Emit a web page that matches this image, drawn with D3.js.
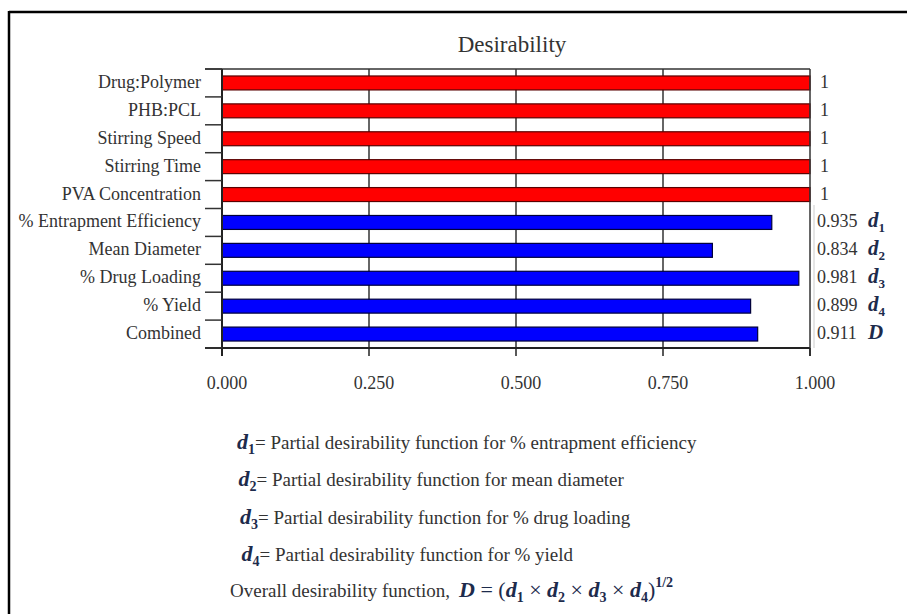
<!DOCTYPE html>
<html>
<head>
<meta charset="utf-8">
<script src="https://cdn.jsdelivr.net/npm/d3@7"></script>
<style>
  body { margin:0; background:#fff; }
  text { font-family:"Liberation Serif", "Times New Roman", serif; fill:#333; }
  .math { font-family:"Liberation Serif", serif; font-style:italic; font-weight:bold; fill:#1d2b4c; }
  .up { font-style:normal; }
  .plain { font-style:normal; font-weight:normal; }
</style>
</head>
<body>
<div id="chart"></div>
<script>
var categories = ["Drug:Polymer", "PHB:PCL", "Stirring Speed", "Stirring Time", "PVA Concentration",
                  "% Entrapment Efficiency", "Mean Diameter", "% Drug Loading", "% Yield", "Combined"];
var values = [1, 1, 1, 1, 1, 0.935, 0.834, 0.981, 0.899, 0.911];
var groups = ["factor", "factor", "factor", "factor", "factor", "response", "response", "response", "response", "combined"];
var symbols = ["", "", "", "", "", "1", "2", "3", "4", "D"];
var tickValues = [0, 0.25, 0.5, 0.75, 1];
var tickLabels = ["0.000", "0.250", "0.500", "0.750", "1.000"];
var notes = ["Partial desirability function for % entrapment efficiency",
             "Partial desirability function for mean diameter",
             "Partial desirability function for % drug loading",
             "Partial desirability function for % yield"];

var fullWidth = 911;
var fullHeight = 614;
var margin = {top:69, right:101, bottom:266, left:222};

var svg = d3.select("#chart")
            .append("svg")
            .attr("width", fullWidth)
            .attr("height", fullHeight);

// frame of the figure (top and left only visible)
svg.append("line").attr("x1", 9).attr("x2", 907).attr("y1", 12).attr("y2", 12)
   .attr("stroke", "#000").attr("stroke-width", 2.5);
svg.append("line").attr("x1", 9).attr("x2", 9).attr("y1", 11).attr("y2", 614)
   .attr("stroke", "#000").attr("stroke-width", 2.5);

var xScale = d3.scaleLinear().domain([0, 1]).range([margin.left, fullWidth - margin.right]);
var yScale = d3.scaleBand().domain(categories)
               .range([margin.top, fullHeight - margin.bottom])
               .paddingInner(0.5).paddingOuter(0.25);

var top0 = yScale.range()[0], bot0 = yScale.range()[1];

svg.append("text").attr("x", 512).attr("y", 52)
   .attr("text-anchor", "middle").style("font-size", "23px")
   .text("Desirability");

// gridlines
svg.selectAll(".grid").data(tickValues.slice(1, 4)).enter()
   .append("line").attr("class", "grid")
   .attr("x1", function(d){ return xScale(d); }).attr("x2", function(d){ return xScale(d); })
   .attr("y1", top0).attr("y2", bot0)
   .attr("stroke", "#333").attr("stroke-width", 1.5);

// bars
svg.selectAll(".bar").data(categories).enter()
   .append("rect").attr("class", "bar")
   .attr("x", xScale(0))
   .attr("y", function(d){ return yScale(d); })
   .attr("width", function(d, i){ return xScale(values[i]) - xScale(0); })
   .attr("height", yScale.bandwidth())
   .attr("fill", function(d, i){ return groups[i] == "factor" ? "#ff0000" : "#0000ff"; })
   .attr("stroke", function(d, i){ return groups[i] == "factor" ? "#5a0000" : "#00003a"; })
   .attr("stroke-width", 1.2);

// box lines
svg.append("line").attr("x1", 205).attr("x2", xScale(1)).attr("y1", top0).attr("y2", top0)
   .attr("stroke", "#333").attr("stroke-width", 1.5);
svg.append("line").attr("x1", 205).attr("x2", xScale(1)).attr("y1", bot0).attr("y2", bot0)
   .attr("stroke", "#222").attr("stroke-width", 2);
svg.append("line").attr("x1", xScale(0)).attr("x2", xScale(0)).attr("y1", top0).attr("y2", bot0 + 8)
   .attr("stroke", "#222").attr("stroke-width", 2);
svg.append("line").attr("x1", xScale(1)).attr("x2", xScale(1)).attr("y1", top0).attr("y2", bot0 + 8)
   .attr("stroke", "#333").attr("stroke-width", 1.5);
svg.append("line").attr("x1", xScale(1) + 4).attr("x2", xScale(1) + 4).attr("y1", 205).attr("y2", bot0)
   .attr("stroke", "#ccc").attr("stroke-width", 1);

// left ticks at band boundaries
var bounds = d3.range(categories.length + 1).map(function(i){ return top0 + i * yScale.step(); });
svg.selectAll(".ltick").data(bounds).enter()
   .append("line").attr("class", "ltick")
   .attr("x1", 205).attr("x2", xScale(0))
   .attr("y1", function(d){ return d; }).attr("y2", function(d){ return d; })
   .attr("stroke", "#333").attr("stroke-width", 1.5);

// bottom ticks
svg.selectAll(".btick").data(tickValues).enter()
   .append("line").attr("class", "btick")
   .attr("x1", function(d){ return xScale(d); }).attr("x2", function(d){ return xScale(d); })
   .attr("y1", bot0).attr("y2", bot0 + 8)
   .attr("stroke", "#222").attr("stroke-width", 1.5);
svg.selectAll(".blabel").data(tickValues).enter()
   .append("text").attr("class", "blabel")
   .attr("x", function(d){ return xScale(d) + 5; }).attr("y", 389)
   .attr("text-anchor", "middle").style("font-size", "18px")
   .text(function(d, i){ return tickLabels[i]; });

// category labels
svg.selectAll(".clabel").data(categories).enter()
   .append("text").attr("class", "clabel")
   .attr("x", 201)
   .attr("y", function(d){ return yScale(d) + yScale.bandwidth() / 2 + 5; })
   .attr("text-anchor", "end").style("font-size", "18px")
   .text(function(d){ return d; });

// value labels
svg.selectAll(".vlabel").data(categories).enter()
   .append("text").attr("class", "vlabel")
   .attr("x", function(d, i){ return values[i] == 1 ? 820 : 817; })
   .attr("y", function(d){ return yScale(d) + yScale.bandwidth() / 2 + 5; })
   .style("font-size", "18px")
   .text(function(d, i){ return values[i] == 1 ? "1" : d3.format(".3f")(values[i]); });

var sym = svg.selectAll(".sym").data(categories.filter(function(d, i){ return symbols[i] != ""; }))
   .enter().append("text").attr("class", "sym math")
   .attr("x", 868)
   .attr("y", function(d){ return yScale(d) + yScale.bandwidth() / 2 + 5; })
   .style("font-size", "21px");
sym.each(function(d){
  var s = symbols[categories.indexOf(d)];
  var t = d3.select(this);
  if (s == "D") { t.text("D"); return; }
  t.append("tspan").text("d");
  t.append("tspan").attr("class", "up").attr("dy", 5).style("font-size", "13px").text(s);
});

// notes below
var noteY = [449, 486, 524, 561];
notes.forEach(function(n, i){
  var t = svg.append("text").attr("x", 237 + i * 1.5).attr("y", noteY[i]).style("font-size", "19px");
  t.append("tspan").attr("class", "math").style("font-size", "22px").text("d");
  t.append("tspan").attr("class", "math up").attr("dy", 5).style("font-size", "14px").text(i + 1);
  t.append("tspan").attr("dy", -5).text("= " + n);
});

var ov = svg.append("text").attr("x", 230).attr("y", 597).style("font-size", "19px");
ov.append("tspan").text("Overall desirability function,");

// formula D = (d1 x d2 x d3 x d4)^1/2
var m = svg.append("text").attr("class", "math").attr("x", 459).attr("y", 597).style("font-size", "22px");
m.append("tspan").text("D");
m.append("tspan").attr("class", "plain").text(" = (");
[1, 2, 3, 4].forEach(function(k, i){
  if (i > 0) m.append("tspan").attr("class", "plain").attr("dy", -5).text("\u00a0×\u00a0");
  m.append("tspan").text("d");
  m.append("tspan").attr("class", "up").attr("dy", 5).style("font-size", "14px").text(k);
});
m.append("tspan").attr("class", "plain").attr("dy", -5).text(")");
m.append("tspan").attr("class", "up").attr("dy", -10).style("font-size", "14px").text("1/2");
</script>
</body>
</html>
